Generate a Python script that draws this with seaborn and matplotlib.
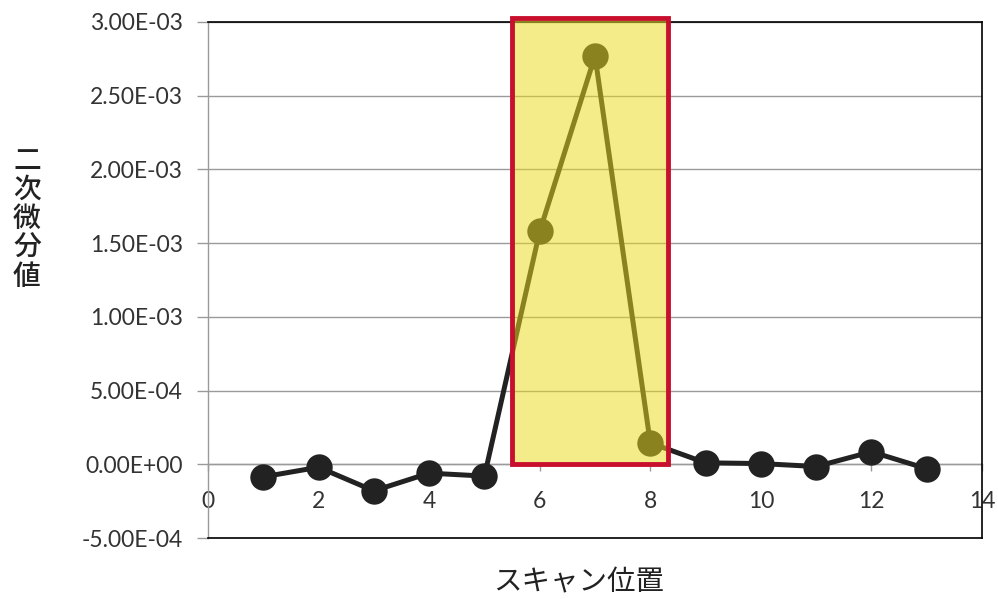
import matplotlib
matplotlib.use("Agg")
import matplotlib.pyplot as plt
import matplotlib.patches as mpatches
from matplotlib.ticker import FuncFormatter
import seaborn as sns

# ==================== Data ====================
scan_pos = [1, 2, 3, 4, 5, 6, 7, 8, 9, 10, 11, 12, 13]
second_deriv = [-8.5e-5, -2.0e-5, -1.8e-4, -6.0e-5, -8.0e-5,
                1.58e-3, 2.77e-3, 1.45e-4, 1.0e-5, 5.0e-6,
                -1.5e-5, 8.5e-5, -3.0e-5]
y_ticks = [-5e-4, 0, 5e-4, 1e-3, 1.5e-3, 2e-3, 2.5e-3, 3e-3]
x_ticks = [0, 2, 4, 6, 8, 10, 12, 14]
highlight_x = [5.49, 8.32]
highlight_y = [0.0, 3.03e-3]

Y_LABEL = "二次微分値"
X_LABEL = "スキャン位置"

# ==================== Plot Settings ====================
sns.set_style("white")
plt.rcParams["font.family"] = ["Lato", "Noto Sans CJK JP", "DejaVu Sans"]
plt.rcParams["axes.unicode_minus"] = False

GRID = "#9a9a9a"
LINE = "#222222"
CJK = ["Noto Sans CJK JP", "DejaVu Sans"]


def sci_fmt(v, _):
    mant, exp = f"{v:.2E}".split("E")
    return f"{mant}E{exp[0]}{int(exp[1:]):02d}"


fig = plt.figure(figsize=(9.98, 5.99), dpi=100)
ax = fig.add_axes([0.2084, 0.1018, 0.984 - 0.2084, 0.9633 - 0.1018])

sns.lineplot(x=scan_pos, y=second_deriv, ax=ax, color=LINE, linewidth=3.6,
             marker="o", markersize=19, markeredgecolor=LINE,
             markeredgewidth=0, zorder=3)

ax.set_xlim(x_ticks[0], x_ticks[-1])
ax.set_ylim(y_ticks[0], y_ticks[-1])
ax.set_yticks(y_ticks)
ax.yaxis.set_major_formatter(FuncFormatter(sci_fmt))
ax.grid(axis="y", color=GRID, linewidth=1.0, zorder=0)
ax.set_axisbelow(True)

# frame: black top/right/bottom, grey value axis on the left
for side in ["top", "right", "bottom"]:
    ax.spines[side].set_color("black")
    ax.spines[side].set_linewidth(1.2)
ax.spines["left"].set_color(GRID)
ax.spines["left"].set_linewidth(1.0)
ax.tick_params(axis="y", direction="out", length=8, width=1, color=GRID,
               labelsize=16.5, labelcolor="#333333", pad=10, left=True)
ax.tick_params(axis="x", bottom=False, labelbottom=False)

# category axis crossing at y = 0
frac0 = (0 - y_ticks[0]) / (y_ticks[-1] - y_ticks[0])
sec = ax.secondary_xaxis(frac0)
sec.set_xticks(x_ticks)
sec.spines["bottom"].set_color(GRID)
sec.spines["bottom"].set_linewidth(1.0)
sec.tick_params(direction="out", length=5, width=1, color=GRID,
                labelsize=16.5, labelcolor="#333333", pad=14)

# highlighted region
w = highlight_x[1] - highlight_x[0]
h = highlight_y[1] - highlight_y[0]
ax.add_patch(mpatches.Rectangle((highlight_x[0], highlight_y[0]), w, h,
                                facecolor="#EADB1E", alpha=0.52,
                                edgecolor="none", zorder=4, clip_on=False))
ax.add_patch(mpatches.Rectangle((highlight_x[0], highlight_y[0]), w, h,
                                facecolor="none", edgecolor="#C8102E",
                                linewidth=3.5, zorder=5, clip_on=False))

# axis titles
fig.text(0.027, 0.635, "\n".join(Y_LABEL), ha="center", va="center",
         fontsize=20, family=CJK, weight="medium",
         color="#222222", linespacing=1.0)
fig.text(0.580, 0.027, X_LABEL, ha="center", va="center", fontsize=20.5,
         family=CJK, color="#222222")

fig.savefig("out.png", dpi=100)
